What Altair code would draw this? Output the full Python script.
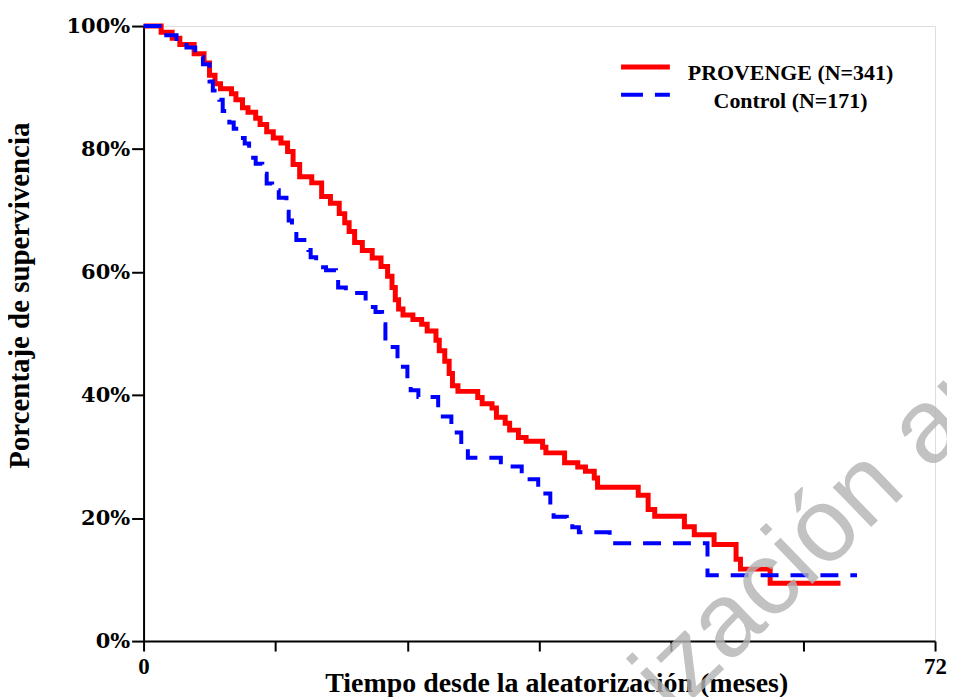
import altair as alt
import pandas as pd

# PROVENGE (N=341) Kaplan-Meier steps: months, survival %
prov_t = [0, 1.6, 2.6, 3.3, 4.6, 5.5, 6.0, 6.5, 7.0, 8.0, 8.4, 9.0, 9.5, 10.2, 10.6, 11.2, 11.8,
          12.5, 13.1, 13.6, 14.2, 15.3, 16.2, 17.0, 17.8, 18.3, 18.7, 19.2, 19.9, 20.8, 21.6,
          22.2, 22.6, 22.9, 23.2, 23.6, 24.5, 25.3, 25.8, 26.6, 26.9, 27.4, 27.8, 28.1, 28.6,
          30.4, 30.8, 31.7, 32.1, 32.9, 33.3, 34.1, 34.8, 36.3, 36.6, 38.3, 39.5, 40.2, 41.0,
          41.3, 45.0, 45.9, 46.5, 49.2, 50.1, 51.9, 53.9, 54.3, 57.0, 63.4]
prov_s = [100, 99.0, 98.0, 97.0, 95.5, 94.0, 92.0, 90.6, 89.8, 89.0, 88.0, 86.7, 86.0, 85.0, 84.0, 82.8, 81.8,
          81.0, 79.6, 77.5, 75.5, 74.5, 72.3, 71.2, 69.5, 68.0, 66.6, 64.8, 63.5, 62.3, 60.9,
          59.3, 57.5, 55.5, 54.0, 53.0, 52.3, 51.5, 50.4, 48.9, 47.2, 45.5, 43.5, 41.5, 40.6,
          39.6, 38.6, 37.9, 36.4, 35.4, 34.3, 33.1, 32.5, 31.5, 30.6, 29.0, 28.3, 27.6, 26.5,
          25.0, 23.7, 21.4, 20.3, 18.6, 17.3, 15.7, 13.3, 11.7, 9.4, 9.4]

# Control (N=171)
ctrl_t = [0, 1.7, 3.0, 3.9, 4.7, 5.4, 6.0, 6.3, 6.9, 7.2, 7.8, 8.2, 8.7, 9.2, 9.6, 10.2, 10.8,
          11.2, 11.7, 12.3, 13.0, 13.2, 13.5, 13.9, 15.0, 15.2, 15.7, 16.6, 17.5, 17.7, 18.4,
          20.2, 21.1, 21.7, 22.0, 23.1, 23.4, 24.0, 24.3, 25.0, 26.8, 27.0, 28.0, 28.2, 28.9,
          29.5, 32.5, 34.4, 35.9, 37.0, 37.3, 38.5, 39.0, 39.6, 42.4, 51.3, 64.9]
ctrl_s = [100, 98.5, 97.5, 96.5, 95.0, 93.8, 91.0, 89.5, 88.0, 86.2, 84.3, 83.3, 81.8, 80.9, 78.6, 77.6, 76.0,
          74.4, 73.3, 72.1, 69.8, 68.4, 66.8, 65.2, 63.6, 62.4, 60.8, 60.3, 59.0, 57.5, 56.6,
          54.3, 53.5, 51.5, 47.8, 45.5, 44.6, 42.0, 40.8, 39.7, 37.5, 36.5, 34.8, 33.9, 31.3,
          29.8, 28.4, 26.3, 24.0, 21.5, 20.2, 19.8, 18.5, 17.7, 15.9, 10.7, 10.7]

x_ticks = [0, 12, 24, 36, 48, 60, 72]
y_ticks = [0, 20, 40, 60, 80, 100]
legend_labels = ["PROVENGE (N=341)", "Control (N=171)"]
watermark_text = ["ización an"]
watermark_x = [48.2]
watermark_y = [-12.5]

prov = pd.DataFrame({"t": prov_t, "s": prov_s})
ctrl = pd.DataFrame({"t": ctrl_t, "s": ctrl_s})
wm = pd.DataFrame({"x": watermark_x, "y": watermark_y, "text": watermark_text})

x_scale = alt.Scale(domain=[0, 72], nice=False, zero=False)
y_scale = alt.Scale(domain=[0, 100], nice=False)

x_axis = alt.Axis(
    values=x_ticks,
    labelExpr="datum.value == 0 || datum.value == 72 ? datum.label : ''",
    title="Tiempo desde la aleatorización (meses)",
    titleFont="Liberation Serif", titleFontSize=28, titleFontWeight="bold", titleColor="black",
    titleX=414, titleY=51, titleBaseline="alphabetic", titleAlign="center",
    labelFont="Liberation Serif", labelFontSize=23, labelFontWeight="bold", labelColor="black",
    labelPadding=5, labelBaseline="top", labelFlush=False, labelOverlap=False,
    tickSize=10, tickWidth=2, tickColor="black", domainWidth=2, domainColor="black", grid=False,
)
y_axis = alt.Axis(
    values=y_ticks,
    labelExpr="datum.value + '%'",
    title="Porcentaje de supervivencia",
    titleFont="Liberation Serif", titleFontSize=29, titleFontWeight="bold", titleColor="black",
    titleX=-115, titleY=270, titleAngle=270, titleBaseline="alphabetic", titleAlign="center",
    labelFont="DejaVu Serif", labelFontSize=21, labelFontWeight="bold", labelColor="black",
    labelPadding=2, labelBaseline="middle",
    tickSize=12, tickWidth=2, tickColor="black", domainWidth=2, domainColor="black", grid=False,
)

red = alt.Chart(prov).mark_line(interpolate="step-after", color="#FF0000", strokeWidth=5).encode(
    x=alt.X("t:Q", scale=x_scale, axis=x_axis),
    y=alt.Y("s:Q", scale=y_scale, axis=y_axis),
)
blue = alt.Chart(ctrl).mark_line(interpolate="step-after", color="#0000FF", strokeWidth=4,
                                 strokeDash=[18, 12]).encode(
    x=alt.X("t:Q", scale=x_scale),
    y=alt.Y("s:Q", scale=y_scale),
)

leg1 = pd.DataFrame({"label": [legend_labels[0]]})
leg2 = pd.DataFrame({"label": [legend_labels[1]]})
leg_rule1 = alt.Chart(leg1).mark_rule(color="#FF0000", strokeWidth=5).encode(
    x=alt.value(479), x2=alt.value(528), y=alt.value(41))
leg_rule2 = alt.Chart(leg2).mark_rule(color="#0000FF", strokeWidth=4, strokeDash=[22, 12]).encode(
    x=alt.value(479), x2=alt.value(528), y=alt.value(69))
leg_text1 = alt.Chart(leg1).mark_text(font="Liberation Serif", fontWeight="bold", fontSize=22,
                                      align="center", baseline="alphabetic", color="black").encode(
    x=alt.value(649), y=alt.value(54), text="label:N")
leg_text2 = alt.Chart(leg2).mark_text(font="Liberation Serif", fontWeight="bold", fontSize=22,
                                      align="center", baseline="alphabetic", color="black").encode(
    x=alt.value(649), y=alt.value(82), text="label:N")

watermark = alt.Chart(wm).mark_text(font="Liberation Sans", fontSize=105, angle=316, align="left",
                                    baseline="alphabetic", color="#b4b4b4", opacity=0.8).encode(
    x=alt.X("x:Q", scale=x_scale),
    y=alt.Y("y:Q", scale=y_scale),
    text="text:N",
)

chart = alt.layer(red, blue, leg_rule1, leg_rule2, leg_text1, leg_text2, watermark).properties(
    width=794, height=617,
    autosize=alt.AutoSizeParams(type="none"),
    padding={"left": 136, "top": 17, "right": 12, "bottom": 55},
).configure_view(stroke=None).configure(background="white")

chart.save("out.html", embed_options={"renderer": "svg", "actions": False})
